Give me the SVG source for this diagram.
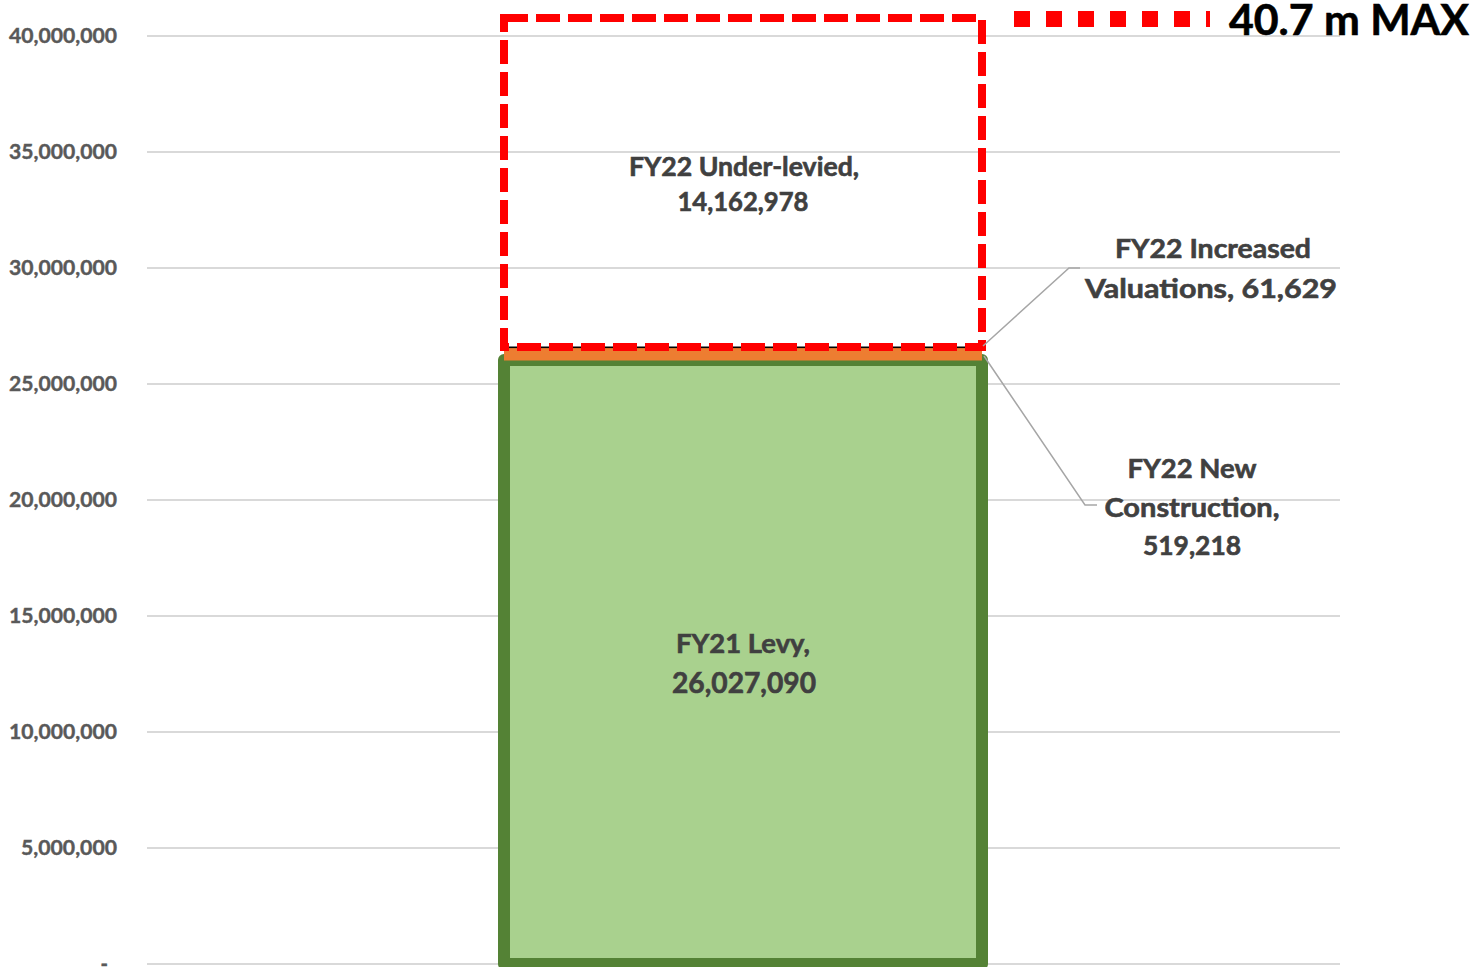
<svg xmlns="http://www.w3.org/2000/svg" width="1475" height="967" viewBox="0 0 1475 967">
<style>
.grid{stroke:#D9D9D9;stroke-width:2;fill:none}
.ax{font-family:Lato,"Liberation Sans",sans-serif;font-weight:bold;font-size:20px;fill:#595959;stroke:#595959;stroke-width:0.4;text-anchor:end}
.lbl{font-family:Lato,"Liberation Sans",sans-serif;font-weight:bold;fill:#404040;stroke:#404040;stroke-width:0.6;text-anchor:middle}
.lead{stroke:#A6A6A6;stroke-width:1.5;fill:none}
</style>
<rect width="1475" height="967" fill="#FFFFFF"/>
<g id="gridlines">
<line class="grid" x1="147" y1="36" x2="1340" y2="36"/>
<line class="grid" x1="147" y1="152" x2="1340" y2="152"/>
<line class="grid" x1="147" y1="268" x2="1340" y2="268"/>
<line class="grid" x1="147" y1="384" x2="1340" y2="384"/>
<line class="grid" x1="147" y1="500" x2="1340" y2="500"/>
<line class="grid" x1="147" y1="616" x2="1340" y2="616"/>
<line class="grid" x1="147" y1="732" x2="1340" y2="732"/>
<line class="grid" x1="147" y1="848" x2="1340" y2="848"/>
<line class="grid" x1="147" y1="964" x2="1340" y2="964"/>
</g>
<g id="axis">
<text class="ax" x="117" y="43" textLength="108" lengthAdjust="spacingAndGlyphs">40,000,000</text>
<text class="ax" x="117" y="159" textLength="108" lengthAdjust="spacingAndGlyphs">35,000,000</text>
<text class="ax" x="117" y="275" textLength="108" lengthAdjust="spacingAndGlyphs">30,000,000</text>
<text class="ax" x="117" y="391" textLength="108" lengthAdjust="spacingAndGlyphs">25,000,000</text>
<text class="ax" x="117" y="507" textLength="108" lengthAdjust="spacingAndGlyphs">20,000,000</text>
<text class="ax" x="117" y="623" textLength="108" lengthAdjust="spacingAndGlyphs">15,000,000</text>
<text class="ax" x="117" y="739" textLength="108" lengthAdjust="spacingAndGlyphs">10,000,000</text>
<text class="ax" x="117" y="855" textLength="96" lengthAdjust="spacingAndGlyphs">5,000,000</text>
<text class="ax" x="108" y="971">-</text>
</g>
<g id="fy21-levy">
<rect x="504" y="360" width="478" height="604" fill="#A9D18E" stroke="#548235" stroke-width="12" stroke-linejoin="round"/>
<text class="lbl" x="743" y="653" font-size="27" textLength="134" lengthAdjust="spacingAndGlyphs">FY21 Levy,</text>
<text class="lbl" x="744" y="693" font-size="28" textLength="144" lengthAdjust="spacingAndGlyphs">26,027,090</text>
</g>
<g id="fy22-new-construction">
<rect x="504" y="348" width="478" height="12.5" fill="#ED7D31"/>
</g>
<g id="fy22-increased-valuations">
<rect x="504" y="346.5" width="478" height="1.6" fill="#000000"/>
</g>
<g id="fy22-under-levied">
<path d="M504 18 H982 V347 H504 Z" fill="none" stroke="#FF0000" stroke-width="8" stroke-dasharray="24 8"/>
<text class="lbl" x="744" y="176" font-size="26" textLength="230" lengthAdjust="spacingAndGlyphs">FY22 Under-levied,</text>
<text class="lbl" x="743" y="211" font-size="27" textLength="131" lengthAdjust="spacingAndGlyphs">14,162,978</text>
</g>
<g id="max-marker">
<line x1="1014" y1="19" x2="1210" y2="19" stroke="#FF0000" stroke-width="16" stroke-dasharray="16 16"/>
<text x="1229" y="35" font-family="Lato,'Liberation Sans',sans-serif" font-weight="bold" font-size="42" fill="#000000" stroke="#000000" stroke-width="0.6" textLength="240" lengthAdjust="spacingAndGlyphs">40.7 m MAX</text>
</g>
<g id="label-increased-valuations">
<text class="lbl" x="1213" y="258" font-size="27" textLength="196" lengthAdjust="spacingAndGlyphs">FY22 Increased</text>
<text class="lbl" x="1211" y="298" font-size="27" textLength="252" lengthAdjust="spacingAndGlyphs">Valuations,  61,629</text>
</g>
<g id="label-new-construction">
<text class="lbl" x="1192" y="478" font-size="27" textLength="129" lengthAdjust="spacingAndGlyphs">FY22 New</text>
<text class="lbl" x="1192" y="517" font-size="27" textLength="175" lengthAdjust="spacingAndGlyphs">Construction,</text>
<text class="lbl" x="1192" y="555" font-size="27" textLength="98" lengthAdjust="spacingAndGlyphs">519,218</text>
</g>
<g id="connectors">
<polyline class="lead" points="983,346 1069,268 1080,268"/>
<polyline class="lead" points="984,356 1085,505 1097,505"/>
</g>
</svg>
